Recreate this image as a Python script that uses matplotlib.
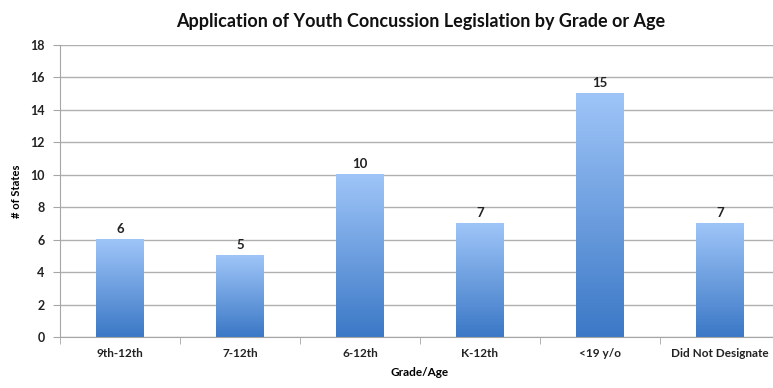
import numpy as np
import matplotlib.pyplot as plt
from matplotlib.colors import LinearSegmentedColormap

categories = ["9th-12th", "7-12th", "6-12th", "K-12th", "<19 y/o", "Did Not Designate"]
states = [6, 5, 10, 7, 15, 7]

plt.rcParams['font.family'] = ['Lato', 'DejaVu Sans']

fig = plt.figure(figsize=(7.73, 3.88), dpi=100)
ax = fig.add_axes([60 / 773, 51 / 388, 720 / 773, 292 / 388])

cmap = LinearSegmentedColormap.from_list("bar", ["#3b78c6", "#9fc5f8"])
grad = np.linspace(0, 1, 256).reshape(-1, 1)
width = 0.40
x = np.arange(len(categories))
for xi, v in zip(x, states):
    ax.imshow(grad, cmap=cmap, origin='lower', aspect='auto',
              extent=(xi - width / 2, xi + width / 2, 0, v), zorder=2)
    ax.text(xi, v + 0.3, str(v), ha='center', va='bottom', fontsize=9.5,
            fontweight='bold', color='#222222')

ax.set_xlim(-0.5, len(categories) - 0.5)
ax.set_ylim(0, 18)
ax.set_yticks(range(0, 19, 2))
ax.yaxis.grid(True, color='#b0b0b0', linewidth=1)
ax.set_axisbelow(True)

ax.set_xticks(x)
ax.set_xticklabels(categories, fontsize=8.5, fontweight='bold', color='#222222')
ax.set_xticks(np.arange(-0.5, len(categories), 1), minor=True)
ax.tick_params(axis='x', which='major', length=0, pad=8)
ax.tick_params(axis='x', which='minor', length=5, color='#a6a6a6')
ax.tick_params(axis='y', length=5, color='#a6a6a6', labelsize=9,
               labelcolor='#222222', pad=6)
for lbl in ax.get_yticklabels():
    lbl.set_fontweight('bold')

for side in ['top', 'right']:
    ax.spines[side].set_visible(False)
ax.spines['left'].set_color('#a6a6a6')
ax.spines['bottom'].set_color('#a6a6a6')

ax.set_ylabel("# of States", fontsize=8, fontweight='bold', labelpad=6)
ax.set_xlabel("Grade/Age", fontsize=8.5, fontweight='bold', labelpad=6)
fig.text(421 / 773, 1 - 21 / 388, "Application of Youth Concussion Legislation by Grade or Age",
         ha='center', va='center', fontsize=13, fontweight='bold', color='#111111')

fig.savefig("out.png", dpi=100)
